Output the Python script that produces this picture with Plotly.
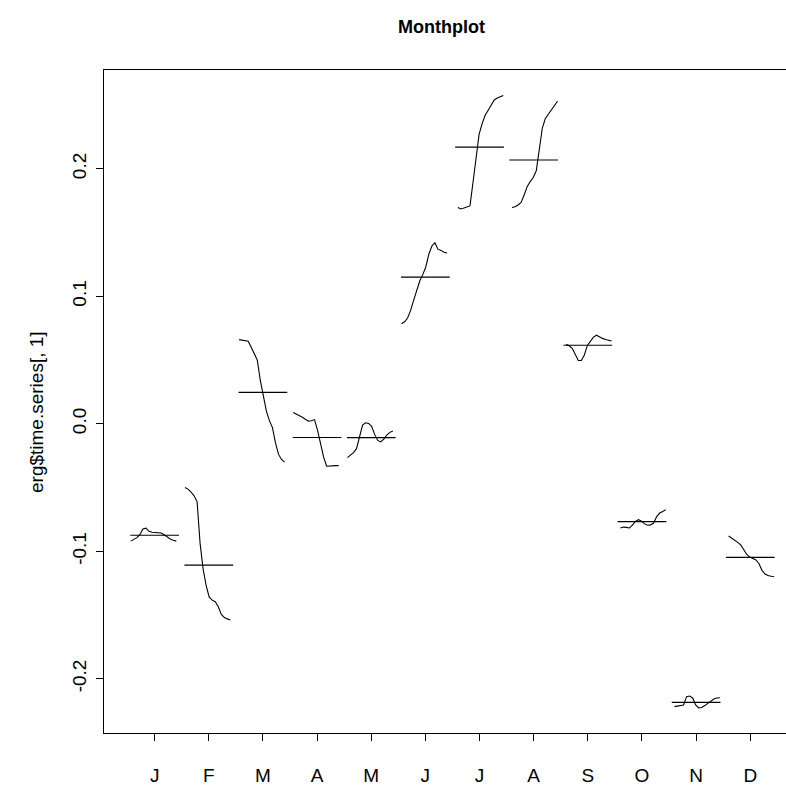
import plotly.graph_objects as go

month_labels = ["J", "F", "M", "A", "M", "J", "J", "A", "S", "O", "N", "D"]

# sub-series values for each month (yearly values of the seasonal component)
jan = [-0.0920, -0.0908, -0.0893, -0.0870, -0.0825, -0.0818, -0.0843, -0.0850,
       -0.0852, -0.0852, -0.0856, -0.0870, -0.0890, -0.0903, -0.0913, -0.0920]
feb = [-0.0500, -0.0512, -0.0535, -0.0565, -0.0610, -0.0940, -0.1140, -0.1270,
       -0.1360, -0.1383, -0.1395, -0.1435, -0.1495, -0.1520, -0.1530, -0.1538]
mar = [0.0660, 0.0658, 0.0655, 0.0648, 0.0600, 0.0550, 0.0500, 0.0340,
       0.0210, 0.0100, 0.0025, -0.0030, -0.0150, -0.0240, -0.0280, -0.0300]
apr = [0.0088, 0.0078, 0.0066, 0.0052, 0.0036, 0.0021, 0.0024, 0.0033,
       -0.0050, -0.0165, -0.0260, -0.0333, -0.0330, -0.0328, -0.0328, -0.0328]
may = [-0.0265, -0.0248, -0.0226, -0.0195, -0.0095, -0.0010, 0.0008, 0.0003,
       -0.0020, -0.0085, -0.0130, -0.0142, -0.0120, -0.0088, -0.0067, -0.0056]
jun = [0.0785, 0.0800, 0.0830, 0.0890, 0.0970, 0.1050, 0.1120, 0.1170,
       0.1230, 0.1330, 0.1395, 0.1420, 0.1370, 0.1360, 0.1345, 0.1340]
jul = [0.1697, 0.1685, 0.1692, 0.1702, 0.1709, 0.1895, 0.2100, 0.2270,
       0.2355, 0.2420, 0.2460, 0.2500, 0.2540, 0.2555, 0.2567, 0.2575]
aug = [0.1697, 0.1702, 0.1716, 0.1736, 0.1795, 0.1860, 0.1900, 0.1932,
       0.1985, 0.2140, 0.2320, 0.2395, 0.2430, 0.2470, 0.2505, 0.2530]
sep = [0.0624, 0.0612, 0.0592, 0.0545, 0.0497, 0.0497, 0.0540, 0.0615,
       0.0650, 0.0680, 0.0695, 0.0680, 0.0670, 0.0662, 0.0655, 0.0650]
oct = [-0.0817, -0.0810, -0.0812, -0.0817, -0.0795, -0.0765, -0.0752, -0.0763,
       -0.0785, -0.0795, -0.0793, -0.0778, -0.0728, -0.0700, -0.0688, -0.0673]
nov = [-0.2218, -0.2212, -0.2210, -0.2205, -0.2140, -0.2135, -0.2150, -0.2205,
       -0.2228, -0.2225, -0.2210, -0.2192, -0.2175, -0.2158, -0.2150, -0.2148]
dec = [-0.0880, -0.0895, -0.0912, -0.0930, -0.0950, -0.0990, -0.1025, -0.1045,
       -0.1055, -0.1068, -0.1095, -0.1150, -0.1178, -0.1190, -0.1195, -0.1197]

series = [jan, feb, mar, apr, may, jun, jul, aug, sep, oct, nov, dec]

y_ticks = [-0.2, -0.1, 0.0, 0.1, 0.2]
y_tick_text = ["-0.2", "-0.1", "0.0", "0.1", "0.2"]

fig = go.Figure()
for i, vals in enumerate(series):
    m = i + 1
    n = len(vals)
    # first half of the year starts a little earlier within its slot
    lo, hi = (-0.44, 0.40) if m <= 6 else (-0.40, 0.44)
    xs = [m + lo + (hi - lo) * k / (n - 1) for k in range(n)]
    fig.add_trace(go.Scatter(x=xs, y=vals, mode="lines",
                             line=dict(color="black", width=1.1),
                             showlegend=False, hoverinfo="skip"))
    base = sum(vals) / n
    fig.add_trace(go.Scatter(x=[m - 0.45, m + 0.45], y=[base, base],
                             mode="lines", line=dict(color="black", width=1.1),
                             showlegend=False, hoverinfo="skip"))

font = "Liberation Sans, Arial, sans-serif"
fig.update_layout(
    width=786, height=785,
    margin=dict(l=104, r=0, t=70, b=52),
    paper_bgcolor="white", plot_bgcolor="white",
    font=dict(family=font, size=19, color="black"),
    xaxis=dict(range=[0.065, 12.66], tickmode="array",
               tickvals=list(range(1, 13)), ticktext=month_labels,
               showgrid=False, zeroline=False, showline=True, linecolor="black",
               linewidth=1, mirror=True, ticks="outside", ticklen=7,
               tickcolor="black", ticklabelstandoff=18),
    yaxis=dict(range=[-0.2425, 0.2775], tickmode="array", tickvals=y_ticks,
               ticktext=y_tick_text, tickangle=-90,
               showgrid=False, zeroline=False, showline=True, linecolor="black",
               linewidth=1, ticks="outside", ticklen=7, tickcolor="black",
               ticklabelstandoff=2),
    annotations=[
        dict(text="<b>Monthplot</b>", xref="paper", yref="paper",
             x=(441 - 104) / 682, y=1 + (70 - 27) / 663, xanchor="center",
             yanchor="middle", showarrow=False, font=dict(size=18)),
        dict(text="erg$time.series[, 1]", xref="paper", yref="paper",
             x=(36 - 104) / 682, y=1 - (412 - 70) / 663, xanchor="center",
             yanchor="middle", textangle=-90, showarrow=False,
             font=dict(size=19)),
    ],
)

fig.write_html("out.html")
